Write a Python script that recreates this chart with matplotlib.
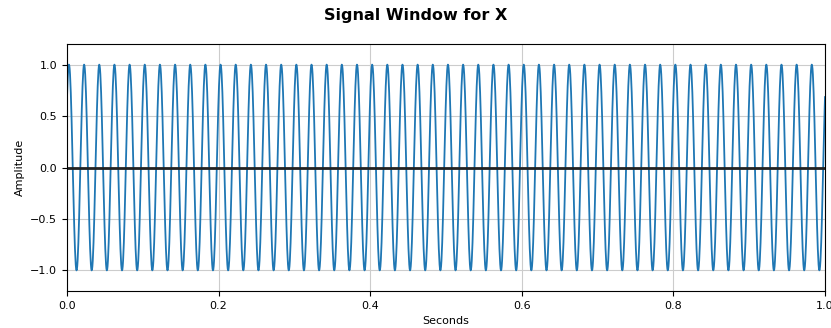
import numpy as np
import matplotlib
matplotlib.use("Agg")
import matplotlib.pyplot as plt

# Signal parameters
freq_hz = 50.0          # 10 cycles per 0.2 s
amplitude = 1.0
peak_delay_s = 0.0026   # first crest sits slightly after t = 0
duration_s = 1.0
sample_rate = 2000

x_ticks = [0.0, 0.2, 0.4, 0.6, 0.8, 1.0]
y_ticks = [-1.0, -0.5, 0.0, 0.5, 1.0]

t = np.arange(0, duration_s + 1 / sample_rate, 1 / sample_rate)
signal = amplitude * np.cos(2 * np.pi * freq_hz * (t - peak_delay_s))

fig = plt.figure(figsize=(8.31, 3.28), dpi=100)
ax = fig.add_axes([67 / 831, 1 - 291 / 328, (825 - 67) / 831, (291 - 44) / 328])
ax.plot(t, signal, color="#1f77b4", lw=1.3)
ax.axhline(0, color="#222222", lw=2)
ax.set_xlim(0, 1)
ax.set_ylim(-1.2, 1.2)
ax.set_xticks(x_ticks)
ax.set_yticks(y_ticks)
ax.grid(True, color="#cccccc", lw=0.8)
ax.tick_params(labelsize=8)
ax.set_xlabel("Seconds", fontsize=8)
ax.set_ylabel("Amplitude", fontsize=8)
fig.suptitle("Signal Window for X", fontsize=11.5, fontweight="bold", y=0.975)
fig.savefig("out.png", dpi=100)
